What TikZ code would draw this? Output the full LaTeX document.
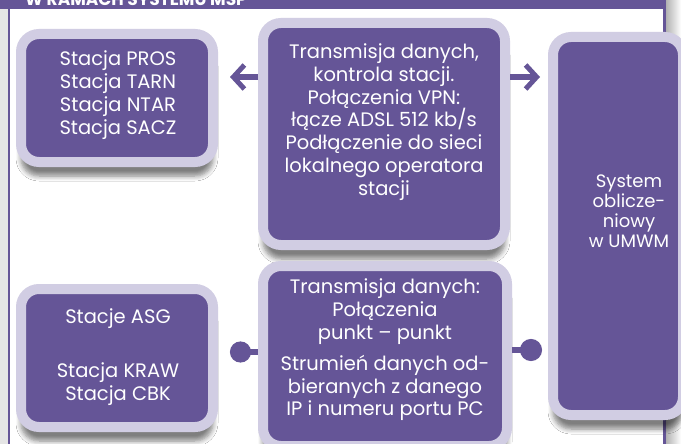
\documentclass[tikz,border=0pt]{standalone}
\usepackage{fontspec}
\setmainfont{Poppins}
\usetikzlibrary{arrows.meta,shadows.blur}
\definecolor{umwmpurple}{RGB}{101,85,151}
\definecolor{umwmlilac}{RGB}{209,205,227}
\begin{document}
\begin{tikzpicture}[x=1pt,y=-1pt,
	box/.style={draw=umwmlilac,line width=10pt,fill=umwmpurple,rounded corners=18pt,inner sep=0pt,
		blur shadow={shadow xshift=0pt,shadow yshift=-14pt,shadow blur steps=6,shadow blur radius=5pt,shadow opacity=50}},
	boxtext/.style={text=white,align=center,inner sep=0pt,font=\fontsize{19.5}{22.8}\selectfont},
	link/.style={umwmpurple,line width=6pt},
	]
	\useasboundingbox (0,0) rectangle (681,444);
	\fill[white] (0,0) rectangle (681,444);
	% ramka
	\fill[black!10] (0,9) rectangle (8,444);
	\shade[left color=black!30,right color=white] (666,0) rectangle (681,444);
	\draw[umwmpurple,line width=2pt] (9,9) -- (9,444);
	\draw[umwmpurple,line width=3pt] (664,9) -- (664,444);
	\fill[umwmpurple] (0,0) rectangle (666,9);
	\begin{scope}
		\clip (0,0) rectangle (666,9);
		\node[white,anchor=base west,inner sep=0pt,font=\bfseries\fontsize{17}{17}\selectfont] (bartxt) at (25,6) {W RAMACH SYSTEMU MSP};
	\end{scope}
	
	% bloki
	\node[box,minimum width=192pt,minimum height=128pt] (pros) at (117,98) {};
	\node[boxtext] (prostxt) at (118,95) {Stacja PROS\\Stacja TARN\\Stacja NTAR\\Stacja SACZ};
	
	\node[box,minimum width=242pt,minimum height=222pt] (vpn) at (384,134) {};
	\node[boxtext] (vpntxt) at (384,122) {Transmisja danych,\\kontrola stacji.\\Połączenia VPN:\\łącze ADSL 512 kb/s\\Podłączenie do sieci\\lokalnego operatora\\stacji};
	
	\node[box,minimum width=130pt,minimum height=378pt] (sys) at (618,226) {};
	\node[boxtext,font=\fontsize{18}{20}\selectfont] (systxt) at (629,211) {System\\oblicze-\\niowy\\w UMWM};
	
	\node[box,minimum width=192pt,minimum height=138pt] (asg) at (117,358) {};
	\node[boxtext] (asgtxt) at (118,357) {Stacje ASG\\[32pt]Stacja KRAW\\Stacja CBK};
	
	\node[box,minimum width=244pt,minimum height=180pt] (pts) at (385,356) {};
	\node[boxtext] (ptstxt) at (385,350) {Transmisja danych:\\Połączenia\\punkt -- punkt\\[8pt]Strumień danych od-\\bieranych z danego\\IP i numeru portu PC};
	
	% polaczenia
	\draw[link,-{Straight Barb[length=11pt,width=24pt,line width=5pt]},shorten >=12pt]
		([yshift=57pt]vpn.west) -- ([yshift=21pt]pros.east);
	\draw[link,-{Straight Barb[length=11pt,width=24pt,line width=5pt]},shorten >=8pt]
		([yshift=57pt]vpn.east) -- ([yshift=149pt]sys.west);
	\draw[link,-{Circle[length=21pt]},shorten >=12pt]
		([yshift=4pt]pts.west) -- ([yshift=6pt]asg.east);
	\draw[link,-{Circle[length=22pt]},shorten >=6pt]
		([yshift=6pt]pts.east) -- ([yshift=-124pt]sys.west);
\end{tikzpicture}
\end{document}
